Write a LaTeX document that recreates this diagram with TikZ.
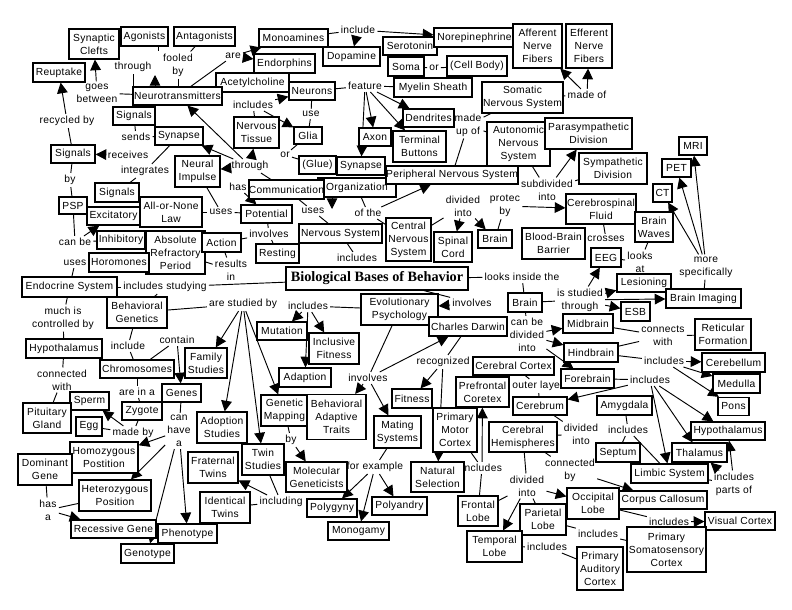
\documentclass[tikz,border=0pt]{standalone}
\usepackage{fontspec}
\newfontfamily\cmfont{Liberation Sans}[LetterSpace=3]
\newfontfamily\ttlfont{Liberation Serif}
\usetikzlibrary{arrows.meta}
\pgfdeclarelayer{bg}
\pgfsetlayers{bg,main}
\newcommand\cmf{\cmfont\fontsize{7.7}{9.75}\selectfont}
\newcommand\ttlf{\ttlfont\bfseries\fontsize{10.7}{12}\selectfont}
\begin{document}
\begin{tikzpicture}[x=0.75pt,y=-0.75pt,
  box/.style={draw, line width=0.9pt, fill=white, inner sep=0pt, align=center, font=\cmf},
  lab/.style={inner sep=1.5pt, align=center, font=\cmf},
  ln/.style={line width=0.7pt},
  arr/.style={line width=0.7pt, -{Triangle[length=8pt,width=8pt]}},
  sz/.style 2 args={minimum width=#1*0.75pt, minimum height=#2*0.75pt}]
\begin{pgfonlayer}{bg}
\fill[white] (0,0) rectangle (792,610);
\end{pgfonlayer}
\useasboundingbox (0,0) rectangle (792,610);
% ---------- labels ----------
\node[lab] (through1) at (133,67) {through};
\node[lab] (fooled) at (178,65) {fooled\\by};
\node[lab] (goes) at (97,93) {goes\\between};
\node[lab] (are) at (233,56) {are};
\node[lab] (recy) at (67,121) {recycled by};
\node[lab] (sends) at (136,137) {sends};
\node[lab] (recv) at (128,155) {receives};
\node[lab] (integ) at (145,171) {integrates};
\node[lab] (byA) at (70,180) {by};
\node[lab] (canbe) at (75,242) {can be};
\node[lab] (usesA) at (75,263) {uses};
\node[lab] (incst) at (165,287) {includes studying};
\node[lab] (much) at (63,318) {much is\\controlled by};
\node[lab] (incl) at (128,346) {include};
\node[lab] (cont) at (177,340) {contain};
\node[lab] (conw) at (62,380) {connected\\with};
\node[lab] (arein) at (137,392) {are in a};
\node[lab] (madeby) at (133,433) {made by};
\node[lab] (canhave) at (179,431) {can\\have\\a};
\node[lab] (hasa) at (48,510) {has\\a};
\node[lab] (incB) at (253,105) {includes};
\node[lab] (use) at (311,114) {use};
\node[lab] (orA) at (285,155) {or};
\node[lab] (through2) at (250,166) {through};
\node[lab] (has) at (238,187) {has};
\node[lab] (feat) at (365,86) {feature};
\node[lab] (incC) at (358,30) {include};
\node[lab] (orB) at (434,68) {or};
\node[lab] (madeof) at (587,95) {made of};
\node[lab] (madeup) at (468,125) {made\\up of};
\node[lab] (subdiv) at (547,190) {subdivided\\into};
\node[lab] (usesB) at (221,212) {uses};
\node[lab] (usesC) at (313,211) {uses};
\node[lab] (ofthe) at (368,213) {of the};
\node[lab] (invA) at (269,234) {involves};
\node[lab] (results) at (231,270) {results\\in};
\node[lab] (incD) at (357,258) {includes};
\node[lab] (divA) at (463,206) {divided\\into};
\node[lab] (protec) at (505,206) {protec\\by};
\node[lab] (crosses) at (606,239) {crosses};
\node[lab] (looksat) at (640,262) {looks\\at};
\node[lab] (more) at (706,267) {more\\specifically};
\node[lab] (looksin) at (522,277) {looks inside the};
\node[lab] (isstud) at (580,300) {is studied\\through};
\node[lab] (invB) at (472,303) {involves};
\node[lab] (arestud) at (243,304) {are studied by};
\node[lab] (incE) at (308,306) {includes};
\node[lab] (invC) at (368,378) {involves};
\node[lab] (candiv) at (527,335) {can be\\divided\\into};
\node[lab] (connw) at (663,336) {connects\\with};
\node[lab] (incF) at (664,361) {includes};
\node[lab] (incG) at (650,380) {includes};
\node[lab] (recog) at (443,362) {recognized};
\node[lab] (outer) at (538,386) {outer layer};
\node[lab] (incH) at (628,430) {includes};
\node[lab] (divB) at (581,434) {divided\\into};
\node[lab] (incparts) at (734,484) {includes\\parts of};
\node[lab] (conby) at (570,470) {connected\\by};
\node[lab] (incI) at (482,468) {includes};
\node[lab] (divC) at (527,486) {divided\\into};
\node[lab] (incJ) at (669,522) {includes};
\node[lab] (incK) at (598,534) {includes};
\node[lab] (incL) at (547,547) {includes};
\node[lab] (forex) at (375,467) {for example};
\node[lab] (byB) at (291,440) {by};
\node[lab] (including) at (281,502) {including};
% ---------- concepts ----------
\node[box,sz={50}{30}] (sc) at (94,44) {Synaptic\\Clefts};
\node[box,sz={47}{19}] (ago) at (144.5,36.5) {Agonists};
\node[box,sz={61}{19}] (ant) at (204.5,36.5) {Antagonists};
\node[box,sz={52}{19}] (reu) at (59,72.5) {Reuptake};
\node[box,sz={73}{19}] (ach) at (252.5,82.5) {Acetylcholine};
\node[box,sz={89}{18}] (nt) at (177.5,96) {Neurotransmitters};
\node[box,sz={42}{18}] (sigA) at (134,116) {Signals};
\node[box,sz={48}{18}] (synA) at (179,136) {Synapse};
\node[box,sz={44}{18}] (sigB) at (73,154) {Signals};
\node[box,sz={45}{31}] (ni) at (197.5,171.5) {Neural\\Impulse};
\node[box,sz={44}{19}] (sigC) at (117,192.5) {Signals};
\node[box,sz={28}{17}] (psp) at (73,205.5) {PSP};
\node[box,sz={62}{30}] (aon) at (171,212) {All-or-None\\Law};
\node[box,sz={53}{18}] (exc) at (113.5,216) {Excitatory};
\node[box,sz={48}{18}] (inh) at (121,240) {Inhibitory};
\node[box,sz={59}{43}] (arp) at (175.5,252.5) {Absolute\\Refractory\\Period};
\node[box,sz={39}{19}] (act) at (221.5,242.5) {Action};
\node[box,sz={60}{19}] (hor) at (119,262.5) {Horomones};
\node[box,sz={95}{20}] (endo) at (69.5,287) {Endocrine System};
\node[box,sz={60}{31}] (bg) at (137,312.5) {Behavioral\\Genetics};
\node[box,sz={76}{19}] (hypA) at (64,348.5) {Hypothalamus};
\node[box,sz={74}{18}] (chr) at (137,369) {Chromosomes};
\node[box,sz={42}{30}] (fam) at (206,363) {Family\\Studies};
\node[box,sz={39}{18}] (genes) at (181.5,393) {Genes};
\node[box,sz={39}{18}] (sperm) at (89.5,401) {Sperm};
\node[box,sz={48}{30}] (pit) at (47,418) {Pituitary\\Gland};
\node[box,sz={40}{18}] (zyg) at (142,411) {Zygote};
\node[box,sz={26}{19}] (egg) at (89,426.5) {Egg};
\node[box,sz={68}{31}] (homo) at (104,457.5) {Homozygous\\Postition};
\node[box,sz={54}{31}] (dom) at (45,469.5) {Dominant\\Gene};
\node[box,sz={72}{31}] (het) at (115,495.5) {Heterozygous\\Position};
\node[box,sz={85}{18}] (rec) at (113.5,529) {Recessive Gene};
\node[box,sz={59}{19}] (phe) at (187.5,533.5) {Phenotype};
\node[box,sz={53}{19}] (geno) at (147.5,553.5) {Genotype};
\node[box,sz={50}{31}] (adopt) at (222,427.5) {Adoption\\Studies};
\node[box,sz={50}{31}] (frat) at (213,467.5) {Fraternal\\Twins};
\node[box,sz={50}{31}] (iden) at (225,507.5) {Identical\\Twins};
\node[box,sz={42}{31}] (twin) at (263,459.5) {Twin\\Studies};
\node[box,sz={61}{30}] (molg) at (316.5,477) {Molecular\\Geneticists};
\node[box,sz={47}{31}] (gmap) at (284.5,410.5) {Genetic\\Mapping};
\node[box,sz={59}{45}] (bat) at (336.5,417) {Behavioral\\Adaptive\\Traits};
\node[box,sz={52}{19}] (adap) at (305,377.5) {Adaption};
\node[box,sz={50}{18}] (mut) at (282,331) {Mutation};
\node[box,sz={50}{31}] (incf) at (334,348.5) {Inclusive\\Fitness};
\node[box,sz={77}{31}] (evo) at (399.5,309.5) {Evolutionary\\Psychology};
\node[box,sz={182}{23},font=\ttlf] (bbb) at (377,278.5) {Biological Bases of Behavior};
\node[box,sz={83}{19}] (ns) at (340.5,233.5) {Nervous System};
\node[box,sz={43}{19}] (res) at (277.5,253.5) {Resting};
\node[box,sz={51}{18}] (pot) at (266.5,214) {Potential};
\node[box,sz={78}{19}] (org) at (357,187.5) {Organization};
\node[box,sz={75}{19}] (comm) at (286.5,189.5) {Communication};
\node[box,sz={37}{18}] (glue) at (317.5,165) {(Glue)};
\node[box,sz={48}{18}] (synB) at (361,166) {Synapse};
\node[box,sz={28}{17}] (glia) at (308,135.5) {Glia};
\node[box,sz={45}{31}] (ntis) at (256.5,132.5) {Nervous\\Tissue};
\node[box,sz={46}{18}] (neu) at (312,91) {Neurons};
\node[box,sz={61}{19}] (endr) at (284.5,63.5) {Endorphins};
\node[box,sz={69}{18}] (mono) at (293.5,38) {Monoamines};
\node[box,sz={57}{19}] (dopa) at (351.5,56.5) {Dopamine};
\node[box,sz={54}{18}] (sero) at (410,46) {Serotonin};
\node[box,sz={81}{19}] (norep) at (474.5,37.5) {Norepinephrine};
\node[box,sz={36}{19}] (soma) at (406,66.5) {Soma};
\node[box,sz={60}{20}] (cell) at (477,66) {(Cell Body)};
\node[box,sz={49}{44}] (aff) at (537.5,46) {Afferent\\Nerve\\Fibers};
\node[box,sz={46}{44}] (eff) at (589,46) {Efferent\\Nerve\\Fibers};
\node[box,sz={78}{19}] (myel) at (433,87.5) {Myelin Sheath};
\node[box,sz={81}{31}] (som) at (522.5,97.5) {Somatic\\Nervous System};
\node[box,sz={51}{18}] (dend) at (428.5,118) {Dendrites};
\node[box,sz={53}{31}] (tb) at (419.5,146.5) {Terminal\\Buttons};
\node[box,sz={32}{18}] (axon) at (375,137) {Axon};
\node[box,sz={63}{44}] (aut) at (518.5,144) {Autonomic\\Nervous\\System};
\node[box,sz={87}{31}] (para) at (588.5,133.5) {Parasympathetic\\Division};
\node[box,sz={68}{31}] (symp) at (613,168.5) {Sympathetic\\Division};
\node[box,sz={132}{18}] (pns) at (452,175) {Peripheral Nervous System};
\node[box,sz={28}{18}] (mri) at (693,146) {MRI};
\node[box,sz={29}{18}] (pet) at (676.5,168) {PET};
\node[box,sz={19}{18}] (ct) at (662.5,193) {CT};
\node[box,sz={70}{30}] (csf) at (601,209) {Cerebrospinal\\Fluid};
\node[box,sz={38}{30}] (bw) at (654,227) {Brain\\Waves};
\node[box,sz={45}{43}] (cns) at (408.5,239.5) {Central\\Nervous\\System};
\node[box,sz={38}{30}] (scord) at (453,247) {Spinal\\Cord};
\node[box,sz={34}{18}] (brA) at (495,239) {Brain};
\node[box,sz={63}{31}] (bbbar) at (553.5,243.5) {Blood-Brain\\Barrier};
\node[box,sz={30}{19}] (eeg) at (606,257.5) {EEG};
\node[box,sz={54}{18}] (les) at (644,283) {Lesioning};
\node[box,sz={75}{19}] (bimg) at (703.5,298.5) {Brain Imaging};
\node[box,sz={29}{19}] (esb) at (635.5,311.5) {ESB};
\node[box,sz={34}{19}] (brB) at (525,302.5) {Brain};
\node[box,sz={78}{19}] (cd) at (468,326.5) {Charles Darwin};
\node[box,sz={50}{19}] (mid) at (588,323.5) {Midbrain};
\node[box,sz={54}{19}] (hind) at (591,352.5) {Hindbrain};
\node[box,sz={56}{31}] (rf) at (723,334.5) {Reticular\\Formation};
\node[box,sz={63}{19}] (cereb) at (733.5,362.5) {Cerebellum};
\node[box,sz={47}{19}] (med) at (736.5,383.5) {Medulla};
\node[box,sz={81}{18}] (ccor) at (513.5,366) {Cerebral Cortex};
\node[box,sz={53}{19}] (fore) at (587.5,378.5) {Forebrain};
\node[box,sz={40}{19}] (fit) at (412,398.5) {Fitness};
\node[box,sz={53}{30}] (pfc) at (482.5,392) {Prefrontal\\Coretex};
\node[box,sz={54}{18}] (cbr) at (540,406) {Cerebrum};
\node[box,sz={55}{19}] (amy) at (624.5,405.5) {Amygdala};
\node[box,sz={31}{18}] (pons) at (733.5,406.5) {Pons};
\node[box,sz={44}{44}] (pmc) at (455,430) {Primary\\Motor\\Cortex};
\node[box,sz={68}{30}] (ch) at (523,437) {Cerebral\\Hemispheres};
\node[box,sz={74}{18}] (hypB) at (728,431) {Hypothalamus};
\node[box,sz={44}{19}] (sept) at (618,452.5) {Septum};
\node[box,sz={55}{19}] (thal) at (699.5,452.5) {Thalamus};
\node[box,sz={77}{19}] (limb) at (669.5,473.5) {Limbic System};
\node[box,sz={53}{30}] (nsel) at (437.5,477) {Natural\\Selection};
\node[box,sz={88}{18}] (ccal) at (663,500) {Corpus Callosum};
\node[box,sz={52}{31}] (occ) at (593,503.5) {Occipital\\Lobe};
\node[box,sz={40}{30}] (fl) at (478,511) {Frontal\\Lobe};
\node[box,sz={46}{31}] (par) at (543,519.5) {Parietal\\Lobe};
\node[box,sz={55}{31}] (tl) at (494.5,546.5) {Temporal\\Lobe};
\node[box,sz={70}{18}] (vc) at (740,521) {Visual Cortex};
\node[box,sz={79}{45}] (psc) at (666.5,549.5) {Primary\\Somatosensory\\Cortex};
\node[box,sz={46}{43}] (pac) at (600,568.5) {Primary\\Auditory\\Cortex};
\node[box,sz={47}{32}] (ms) at (397.5,432) {Mating\\Systems};
\node[box,sz={50}{18}] (pgy) at (332,508) {Polygyny};
\node[box,sz={55}{18}] (pan) at (399.5,506) {Polyandry};
\node[box,sz={61}{18}] (mgy) at (358.5,531) {Monogamy};
\coordinate (tipA) at (155,75);
\coordinate (tipB) at (332,209);
\coordinate (tickA) at (158,51);
% ---------- connectors ----------
\begin{pgfonlayer}{bg}
\draw[ln] (nt) -- (goes); \draw[arr] (goes) -- (sc);
\draw[ln] (through1) -- (nt.north -| through1); \draw[arr] (nt.north -| tipA) -- (tipA);
\draw[ln] (ago.south -| tickA) -- (tickA);
\draw[ln] (ant) -- (fooled); \draw[ln] (fooled) -- (nt.north -| fooled);
\draw[ln] (nt) -- (are); \draw[arr] (are) -- (mono); \draw[arr] (are) -- (endr);
\draw[ln] (sigB) -- (recy); \draw[arr] (recy) -- (reu);
\draw[ln] (sigA) -- (sends); \draw[ln] (sends) -- (synA);
\draw[arr] (recv) -- (sigB);
\draw[ln] (synA) -- (integ); \draw[ln] (integ) -- (sigC);
\draw[ln] (sigB) -- (byA); \draw[ln] (byA) -- (psp);
\draw[ln] (psp) -- (canbe); \draw[ln] (canbe) -- (inh); \draw[arr] (canbe) -- (exc);
\draw[ln] (hor) -- (usesA); \draw[ln] (usesA) -- (endo);
\draw[ln] (endo) -- (incst); \draw[ln] (incst) -- (bbb); \draw[ln] (incst) -- (bg);
\draw[ln] (endo) -- (much); \draw[ln] (much) -- (hypA);
\draw[ln] (hypA) -- (conw); \draw[ln] (conw) -- (pit);
\draw[ln] (bg) -- (incl); \draw[ln] (incl) -- (chr);
\draw[ln] (chr) -- (cont); \draw[arr] (cont) -- (genes);
\draw[ln] (bg) -- (arestud);
\draw[arr] (arestud) -- (fam); \draw[arr] (arestud) -- (adopt);
\draw[arr] (arestud) -- (twin); \draw[arr] (arestud) -- (gmap);
\draw[ln] (chr) -- (arein); \draw[ln] (arein) -- (zyg);
\draw[ln] (zyg) -- (madeby); \draw[arr] (madeby) -- (sperm); \draw[ln] (madeby) -- (egg);
\draw[ln] (genes) -- (canhave);
\draw[arr] (canhave) -- (homo); \draw[arr] (canhave) -- (het);
\draw[arr] (canhave) -- (phe); \draw[arr] (canhave) -- (geno);
\draw[ln] (dom) -- (hasa); \draw[arr] (hasa) -- (rec); \draw[ln] (het) -- (hasa);
\draw[ln] (ntis) -- (incB); \draw[arr] (incB) -- (neu); \draw[arr] (incB) -- (glia);
\draw[ln] (neu) -- (use); \draw[ln] (use) -- (glia);
\draw[ln] (glia) -- (orA); \draw[ln] (orA) -- (glue);
\draw[ln] (comm) -- (through2);
\draw[arr] (through2) -- (nt); \draw[arr] (through2) -- (synA);
\draw[arr] (through2) -- (ni); \draw[arr] (through2) -- (ntis);
\draw[ln] (comm) -- (has); \draw[arr] (has) -- (pot);
\draw[ln] (ni) -- (usesB); \draw[ln] (usesB) -- (pot); \draw[ln] (aon) -- (usesB);
\draw[ln] (neu) -- (feat); \draw[ln] (feat) -- (myel);
\draw[arr] (feat) -- (axon); \draw[arr] (feat) -- (synB);
\draw[arr] (feat) -- (dend); \draw[arr] (feat) -- (tb);
\draw[ln] (mono) -- (incC); \draw[arr] (incC) -- (dopa); \draw[arr] (incC) -- (norep);
\draw[ln] (soma) -- (orB); \draw[ln] (orB) -- (cell);
\draw[ln] (som) -- (madeof); \draw[arr] (madeof) -- (aff); \draw[arr] (madeof) -- (eff);
\draw[ln] (pns) -- (madeup); \draw[ln] (madeup) -- (som); \draw[ln] (madeup) -- (aut);
\draw[ln] (aut) -- (subdiv); \draw[arr] (subdiv) -- (para); \draw[ln] (subdiv) -- (symp);
\draw[ln] (comm) -- (usesC); \draw[ln] (usesC) -- (ns);
\draw[arr] (org.south -| tipB) -- (tipB);
\draw[ln] (org) -- (ofthe); \draw[arr] (ofthe) -- (pns); \draw[ln] (ofthe) -- (cns);
\draw[ln] (pot) -- (invA); \draw[ln] (invA) -- (act); \draw[ln] (invA) -- (res);
\draw[ln] (act) -- (results); \draw[ln] (results) -- (arp);
\draw[ln] (ns) -- (incD);
\draw[ln] (cns) -- (divA); \draw[arr] (divA) -- (scord); \draw[arr] (divA) -- (brA);
\draw[ln] (brA) -- (protec); \draw[arr] (protec) -- (csf);
\draw[ln] (csf) -- (crosses); \draw[ln] (crosses) -- (bbbar);
\draw[ln] (eeg) -- (looksat); \draw[ln] (looksat) -- (bw);
\draw[ln] (bbb) -- (looksin); \draw[ln] (looksin) -- (brB);
\draw[ln] (brB) -- (isstud);
\draw[arr] (isstud) -- (eeg); \draw[arr] (isstud) -- (les);
\draw[arr] (isstud) -- (bimg); \draw[arr] (isstud) -- (esb);
\draw[ln] (bimg) -- (more);
\draw[arr] (more) -- (ct); \draw[arr] (more) -- (pet); \draw[arr] (more) -- (mri);
\draw[ln] (bbb) -- (invB); \draw[arr] (invB) -- (evo);
\draw[ln] (evo) -- (incE);
\draw[arr] (incE) -- (mut); \draw[arr] (incE) -- (incf); \draw[arr] (incE) -- (adap);
\draw[ln] (evo) -- (invC);
\draw[arr] (invC) -- (bat); \draw[arr] (invC) -- (ms); \draw[arr] (invC) -- (cd);
\draw[ln] (cd) -- (recog); \draw[arr] (recog) -- (fit); \draw[arr] (recog) -- (nsel);
\draw[ln] (brB) -- (candiv);
\draw[arr] (candiv) -- (mid); \draw[arr] (candiv) -- (hind); \draw[arr] (candiv) -- (fore);
\draw[ln] (mid) -- (connw); \draw[ln] (hind) -- (connw); \draw[ln] (connw) -- (rf);
\draw[ln] (hind) -- (incF);
\draw[arr] (incF) -- (cereb); \draw[arr] (incF) -- (med); \draw[arr] (incF) -- (pons);
\draw[ln] (fore) -- (incG);
\draw[arr] (incG) -- (cbr); \draw[arr] (incG) -- (limb);
\draw[arr] (incG) -- (hypB); \draw[arr] (incG) -- (thal);
\draw[ln] (cbr) -- (outer); \draw[ln] (outer) -- (ccor);
\draw[ln] (cbr) -- (divB); \draw[ln] (divB) -- (ch);
\draw[ln] (limb) -- (incH); \draw[ln] (incH) -- (amy); \draw[ln] (incH) -- (sept);
\draw[ln] (limb) -- (incparts); \draw[arr] (incparts) -- (hypB); \draw[arr] (incparts) -- (thal);
\draw[ln] (fl) -- (incI); \draw[arr] (incI) -- (pfc); \draw[ln] (incI) -- (pmc);
\draw[ln] (ch) -- (divC); \draw[ln] (divC) -- (fl); \draw[arr] (divC) -- (tl);
\draw[ln] (divC) -- (par); \draw[arr] (divC) -- (occ);
\draw[ln] (ch) -- (conby); \draw[arr] (conby) -- (ccal);
\draw[ln] (occ) -- (incJ); \draw[arr] (incJ) -- (vc);
\draw[ln] (par) -- (incK); \draw[ln] (incK) -- (psc);
\draw[ln] (tl) -- (incL); \draw[ln] (incL) -- (pac);
\draw[ln] (ms) -- (forex);
\draw[arr] (forex) -- (pgy); \draw[arr] (forex) -- (mgy); \draw[arr] (forex) -- (pan);
\draw[ln] (gmap) -- (byB); \draw[arr] (byB) -- (molg);
\draw[ln] (twin) -- (including); \draw[arr] (including) -- (frat); \draw[ln] (including) -- (iden);
\end{pgfonlayer}
\end{tikzpicture}
\end{document}
